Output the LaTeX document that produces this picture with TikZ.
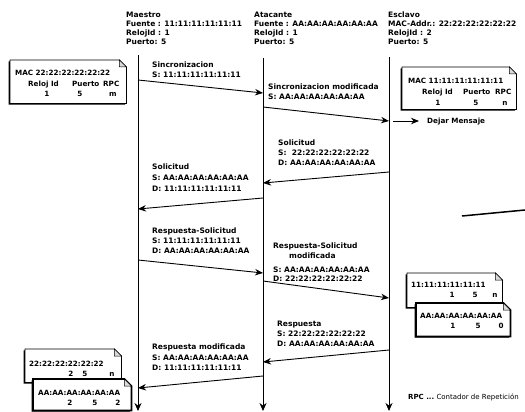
\documentclass[tikz,border=0pt]{standalone}
\usepackage{fontspec}
\setmainfont{DejaVu Sans}
\usetikzlibrary{arrows.meta}
\newcommand\drawnote[2][]{%
  \fill[black] ([xshift=-1.3pt,yshift=-1.3pt]#2.north west) -- ([xshift=-8.3pt,yshift=-1.3pt]#2.north east) -- ([xshift=-1.3pt,yshift=-8.3pt]#2.north east) -- ([xshift=-1.3pt,yshift=-1.3pt]#2.south east) -- ([xshift=-1.3pt,yshift=-1.3pt]#2.south west) -- cycle;
  \draw[fill=white,#1] (#2.north west) -- ([xshift=-7pt]#2.north east) -- ([yshift=-7pt]#2.north east) -- (#2.south east) -- (#2.south west) -- cycle;
  \draw[line width=0.5pt,fill=black!15] ([xshift=-7pt]#2.north east) -- ([xshift=-7pt,yshift=-7pt]#2.north east) -- ([yshift=-7pt]#2.north east) -- cycle;
}
\tikzset{
  lbl/.style={anchor=north west,inner sep=0pt,align=left,font=\fontsize{7.5}{10}\selectfont\bfseries},
  hdr/.style={anchor=north west,inner sep=0pt,align=left,font=\fontsize{7.5}{9}\selectfont\bfseries},
  btxt/.style={anchor=base west,inner sep=0pt,font=\fontsize{7.2}{9}\selectfont\bfseries},
  bnum/.style={anchor=base,inner sep=0pt,font=\fontsize{7.2}{9}\selectfont\bfseries},
  notebox/.style={anchor=north west,inner sep=0pt,minimum width=#1},
  msg/.style={line width=0.9pt,-{Stealth[length=8pt,width=6.5pt]}},
  life/.style={line width=0.9pt,-{Stealth[length=8pt,width=7pt]}}
}
\begin{document}
\begin{tikzpicture}[x=1pt,y=-1pt]
\useasboundingbox (0,0) rectangle (525,412);
% headers
\node[hdr] (hM) at (126,12) {Maestro\\Fuente : 11:11:11:11:11:11\\RelojId : 1\\Puerto: 5};
\node[hdr] (hA) at (254,12) {Atacante\\Fuente : AA:AA:AA:AA:AA:AA\\RelojId : 1\\Puerto: 5};
\node[hdr] (hE) at (388,12) {Esclavo\\MAC-Addr.: 22:22:22:22:22:22\\RelojId : 2\\Puerto: 5};
% lifelines
\coordinate (Mt) at (138,55); \coordinate (Mb) at (138,411);
\coordinate (At) at (263,58); \coordinate (Ab) at (263,411);
\coordinate (Et) at (389,57); \coordinate (Eb) at (389,411);
\draw[life] (Mt) -- (Mb);
\draw[life] (At) -- (Ab);
\draw[life] (Et) -- (Eb);
% message end points
\coordinate (m1s) at (138,80);  \coordinate (m1e) at (263,93);
\coordinate (m2s) at (263,107); \coordinate (m2e) at (389,121);
\coordinate (d1s) at (393,121); \coordinate (d1e) at (419,121);
\coordinate (m3s) at (389,172); \coordinate (m3e) at (263,183);
\coordinate (m4s) at (263,198); \coordinate (m4e) at (138,209);
\coordinate (m5s) at (138,260); \coordinate (m5e) at (263,273);
\coordinate (m6s) at (263,281); \coordinate (m6e) at (389,298);
\coordinate (m7s) at (389,350); \coordinate (m7e) at (263,362);
\coordinate (m8s) at (263,376); \coordinate (m8e) at (138,388);
\draw[msg] (m1s) -- (m1e);
\draw[msg] (m2s) -- (m2e);
\draw[msg] (d1s) -- (d1e);
\draw[msg] (m3s) -- (m3e);
\draw[msg] (m4s) -- (m4e);
\draw[msg] (m5s) -- (m5e);
\draw[msg] (m6s) -- (m6e);
\draw[msg] (m7s) -- (m7e);
\draw[msg] (m8s) -- (m8e);
% labels
\node[lbl] (l1) at (152,62) {Sincronizacion\\S: 11:11:11:11:11:11};
\node[lbl] (l2) at (268,84) {Sincronizacion modificada\\S: AA:AA:AA:AA:AA:AA};
\node[lbl] (l3) at (278,140) {Solicitud\\S:\ \ 22:22:22:22:22:22\\D: AA:AA:AA:AA:AA:AA};
\node[lbl,font=\fontsize{7.5}{11}\selectfont\bfseries] (l4) at (152,164) {Solicitud\\S: AA:AA:AA:AA:AA:AA\\D: 11:11:11:11:11:11};
\node[lbl] (l5) at (152,228) {Respuesta-Solicitud\\S: 11:11:11:11:11:11\\D: AA:AA:AA:AA:AA:AA};
\node[lbl,font=\fontsize{7.5}{9.5}\selectfont\bfseries] (l6) at (273,243) {Respuesta-Solicitud\\\hspace*{16pt}modificada\\[4.5pt]S: AA:AA:AA:AA:AA:AA\\D: 22:22:22:22:22:22};
\node[lbl] (l7) at (277,321) {Respuesta\\S: 22:22:22:22:22:22\\D: AA:AA:AA:AA:AA:AA};
\node[lbl,font=\fontsize{7.5}{10.5}\selectfont\bfseries] (l8) at (152,344) {Respuesta modificada\\S: AA:AA:AA:AA:AA:AA\\D: 11:11:11:11:11:11};
\node[btxt] (dm) at (427,124) {Dejar Mensaje};
% stray line
\coordinate (s1) at (462,216); \coordinate (s2) at (525,210);
\draw[line width=1.5pt] (s1) -- (s2);
% box 1
\node[notebox=116pt,minimum height=43pt] (b1) at (10,60) {};
\drawnote[line width=0.8pt]{b1}
\node[btxt] (b1a) at (15,76) {MAC 22:22:22:22:22:22};
\node[btxt] (b1b) at (28,86) {Reloj Id};
\node[btxt] (b1c) at (72,86) {Puerto};
\node[btxt] (b1d) at (103,86) {RPC};
\node[bnum] (b1e) at (47,96) {1};
\node[bnum] (b1f) at (80,96) {5};
\node[bnum] (b1g) at (113,96) {m};
% box 2
\node[notebox=114pt,minimum height=42pt] (b2) at (402,67) {};
\drawnote[line width=0.8pt]{b2}
\node[btxt] (b2a) at (408,84) {MAC 11:11:11:11:11:11};
\node[btxt] (b2b) at (422,95) {Reloj Id};
\node[btxt] (b2c) at (463,95) {Puerto};
\node[btxt] (b2d) at (495,95) {RPC};
\node[bnum] (b2e) at (438,105) {1};
\node[bnum] (b2f) at (476,105) {5};
\node[bnum] (b2g) at (505,105) {n};
% box 3
\node[notebox=95pt,minimum height=34pt] (b3) at (407,273) {};
\drawnote[line width=0.8pt]{b3}
\node[btxt] (b3a) at (411,287) {11:11:11:11:11:11};
\node[bnum] (b3b) at (452,297) {1};
\node[bnum] (b3c) at (475,297) {5};
\node[bnum] (b3d) at (495,297) {n};
\node[notebox=94pt,minimum height=33pt] (b4) at (416,303) {};
\drawnote[line width=1.8pt]{b4}
\node[btxt] (b4a) at (420,318) {AA:AA:AA:AA:AA:AA};
\node[bnum] (b4b) at (453,328) {1};
\node[bnum] (b4c) at (478,328) {5};
\node[bnum] (b4d) at (501,328) {0};
% box 4
\node[notebox=96pt,minimum height=33pt] (b5) at (25,349) {};
\drawnote[line width=0.8pt]{b5}
\node[btxt] (b5a) at (29,366) {22:22:22:22:22:22};
\node[bnum] (b5b) at (71,376) {2};
\node[bnum] (b5c) at (85,376) {5};
\node[bnum] (b5d) at (112,376) {n};
\node[notebox=98pt,minimum height=31pt] (b6) at (33,379) {};
\drawnote[line width=1.8pt]{b6}
\node[btxt] (b6a) at (38,395) {AA:AA:AA:AA:AA:AA};
\node[bnum] (b6b) at (70,405) {2};
\node[bnum] (b6c) at (95,405) {5};
\node[bnum] (b6d) at (118,405) {2};
% legend
\node[anchor=base west,inner sep=0pt,font=\fontsize{7}{9}\selectfont] (leg) at (408,399) {\bfseries RPC ...\mdseries\ Contador de Repetición};
\end{tikzpicture}
\end{document}
